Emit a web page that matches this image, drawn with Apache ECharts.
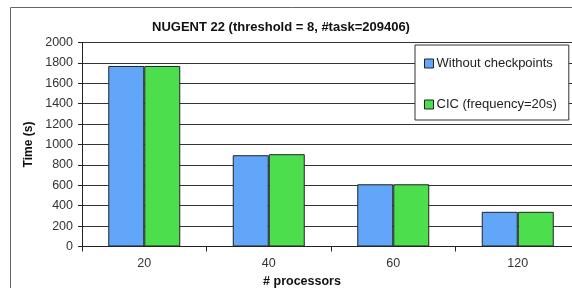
<!DOCTYPE html>
<html>
<head>
<meta charset="utf-8">
<script src="https://cdn.jsdelivr.net/npm/echarts@6/dist/echarts.min.js"></script>
<style>
  html, body { margin: 0; padding: 0; background: #fff; }
  #chart { width: 572px; height: 288px; }
</style>
</head>
<body>
<div id="chart"></div>
<script>
// 数据
var categories = ['20', '40', '60', '120'];
var withoutCkpt = [1770, 895, 610, 340];
var cicFreq20 = [1770, 905, 610, 340];
var seriesNames = ['Without checkpoints', 'CIC (frequency=20s)'];

var myChart = echarts.init(document.getElementById('chart'));

var font = 'Liberation Sans, Arial, sans-serif';

var option = {
  backgroundColor: '#fff',
  animation: false,
  // 外框
  graphic: [
    {
      type: 'rect',
      shape: { x: 10.5, y: 7.5, width: 620, height: 320 },
      style: { fill: 'none', stroke: '#666', lineWidth: 1 },
      z: -1
    }
  ],
  title: {
    text: 'NUGENT 22 (threshold = 8, #task=209406)',
    left: 147,
    top: 16,
    textStyle: { fontFamily: font, fontSize: 13, fontWeight: 'bold', color: '#111' }
  },
  legend: {
    orient: 'vertical',
    left: 415,
    top: 45,
    padding: [12, 12, 9, 9],
    itemGap: 28,
    itemWidth: 9,
    itemHeight: 9,
    icon: 'rect',
    itemStyle: { borderColor: '#222', borderWidth: 1 },
    backgroundColor: '#fff',
    borderColor: '#333',
    borderWidth: 1,
    borderRadius: 0,
    textStyle: { fontFamily: font, fontSize: 13, color: '#222', padding: [0, 0, 0, -2] },
    data: seriesNames,
    z: 10
  },
  grid: {
    left: 82,
    top: 42.5,
    right: -8,
    bottom: 41.5,
    containLabel: false,
    outerBoundsMode: 'none'
  },
  xAxis: {
    type: 'category',
    data: categories,
    name: '# processors',
    nameLocation: 'middle',
    nameGap: 29,
    nameTextStyle: { fontFamily: font, fontSize: 12.5, fontWeight: 'bold', color: '#111', padding: [0, 58, 0, 0] },
    axisLine: { lineStyle: { color: '#222', width: 1 } },
    axisTick: { show: true, length: 5, lineStyle: { color: '#222' } },
    axisLabel: { fontFamily: font, fontSize: 12.5, color: '#333', margin: 11 }
  },
  yAxis: {
    type: 'value',
    min: 0,
    max: 2000,
    interval: 200,
    name: 'Time (s)',
    nameLocation: 'middle',
    nameGap: 46,
    nameTextStyle: { fontFamily: font, fontSize: 12, fontWeight: 'bold', color: '#111' },
    axisLine: { show: true, lineStyle: { color: '#222', width: 1 } },
    axisTick: { show: true, length: 4, lineStyle: { color: '#222' } },
    axisLabel: {
      fontFamily: font,
      fontSize: 12.5,
      color: '#333',
      margin: 9,
      formatter: function (v) { return String(v); }
    },
    splitLine: { show: true, lineStyle: { color: '#333', width: 1 } }
  },
  series: [
    {
      name: seriesNames[0],
      type: 'bar',
      data: withoutCkpt,
      barWidth: 36,
      barGap: '0%',
      itemStyle: { color: '#62A6FA', borderColor: '#222', borderWidth: 1 }
    },
    {
      name: seriesNames[1],
      type: 'bar',
      data: cicFreq20,
      barWidth: 36,
      itemStyle: { color: '#4CDE4C', borderColor: '#222', borderWidth: 1 }
    }
  ]
};

myChart.setOption(option);
</script>
</body>
</html>
